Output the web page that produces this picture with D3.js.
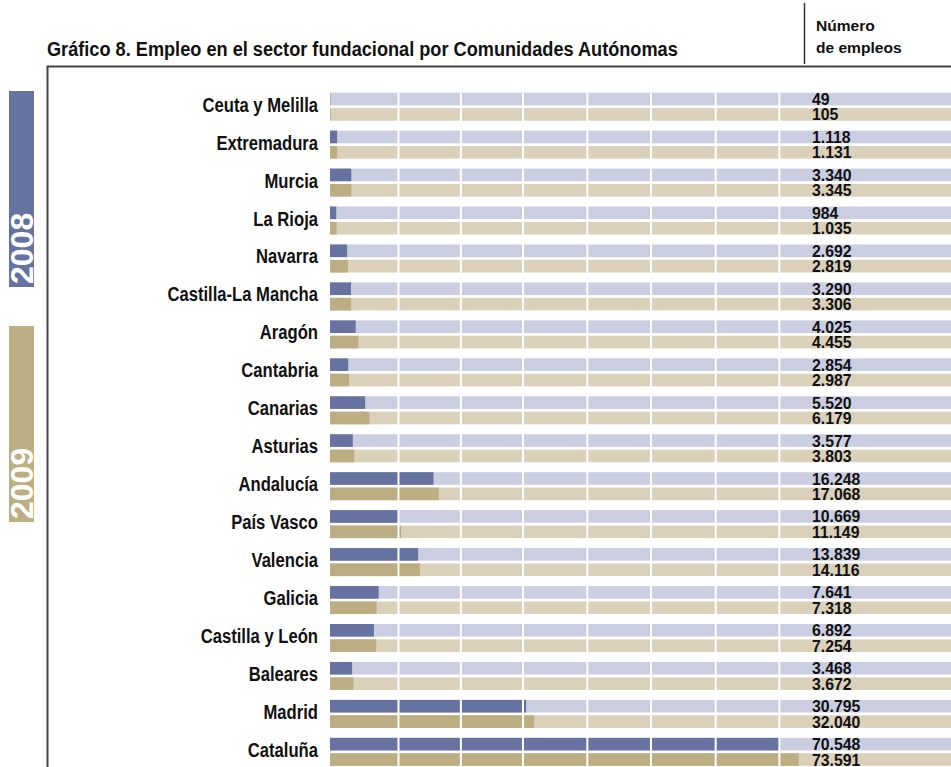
<!DOCTYPE html>
<html><head><meta charset="utf-8">
<script src="https://cdn.jsdelivr.net/npm/d3@7"></script>
<style>body{margin:0;background:#fff} svg{display:block}</style>
</head><body><svg id="c" width="951" height="767"></svg>
<script>
const categories = ["Ceuta y Melilla","Extremadura","Murcia","La Rioja","Navarra","Castilla-La Mancha","Aragón","Cantabria","Canarias","Asturias","Andalucía","País Vasco","Valencia","Galicia","Castilla y León","Baleares","Madrid","Cataluña"];
const years = ["2008","2009"];
const values2008 = [49,1118,3340,984,2692,3290,4025,2854,5520,3577,16248,10669,13839,7641,6892,3468,30795,70548];
const values2009 = [105,1131,3345,1035,2819,3306,4455,2987,6179,3803,17068,11149,14116,7318,7254,3672,32040,73591];
const gridValues = [10750,20550,30300,40400,50400,60550,70550];
const titleText = "Gráfico 8. Empleo en el sector fundacional por Comunidades Autónomas";
const headerLines = ["Número","de empleos"];

const svg = d3.select("#c");
const font = "'Liberation Sans',Arial,Roboto,sans-serif";
const x = d3.scaleLinear().domain([0,97500]).range([330,951]);
const y = d3.scaleBand().domain(categories).range([92.7,765.85]).paddingInner(0.262).paddingOuter(0);
const ySub = d3.scaleBand().domain(years).range([0,y.bandwidth()]).paddingInner(0.18);
const dark = {"2008":"#6673a0","2009":"#bdad83"};
const light = {"2008":"#cbcde1","2009":"#dbd0b9"};
const locale = d3.formatLocale({decimal:",",thousands:".",grouping:[3],currency:["","€"]});
const fmt = locale.format(",d");
const rows = categories.map((c,i)=>({cat:c, vals:[{year:"2008",v:values2008[i]},{year:"2009",v:values2009[i]}]}));

// horizontal compression factor so that a sample string reaches a target width
function squeeze(sample, size, target){
  const t = svg.append("text").attr("font-family",font).attr("font-weight","bold").attr("font-size",size).text(sample);
  const w = t.node().getComputedTextLength();
  t.remove();
  return w > 0 ? target / w : 1;
}
const sTitle = squeeze(titleText, 21, 631);
const sLabel = squeeze("Extremadura", 19.5, 101.7);
const sVal = squeeze("1.118", 16, 38.7);
const sHdr = squeeze("de empleos", 15.5, 85.7);

// title & header
svg.append("text").attr("transform",`translate(47,56) scale(${sTitle},1)`).attr("font-family",font).attr("font-weight","bold")
  .attr("font-size",21).attr("fill","#111").text(titleText);
svg.append("line").attr("x1",804.5).attr("x2",804.5).attr("y1",3).attr("y2",64).attr("stroke","#333").attr("stroke-width",1.5);
svg.selectAll("text.hdr").data(headerLines).join("text").attr("class","hdr")
  .attr("transform",(d,i)=>`translate(816,${30.7+i*22.3}) scale(${sHdr},1)`).attr("font-family",font).attr("font-weight","bold")
  .attr("font-size",15.5).attr("fill","#111").text(d=>d);

// frame
svg.append("path").attr("d","M47.5,767V66.5H951").attr("fill","none").attr("stroke","#444").attr("stroke-width",2);

// legend bars on left
const legend = [{year:"2008",y0:91,h:196},{year:"2009",y0:326,h:196}];
const lg = svg.selectAll("g.lg").data(legend).join("g").attr("class","lg");
lg.append("rect").attr("x",9).attr("y",d=>d.y0).attr("width",25).attr("height",d=>d.h).attr("fill",d=>dark[d.year]);
lg.append("text").attr("transform",d=>`translate(33,${d.y0+d.h-3}) rotate(-90)`)
  .attr("font-family",font).attr("font-weight","bold").attr("font-size",32).attr("fill","#fff").text(d=>d.year);

// bars
const g = svg.selectAll("g.row").data(rows).join("g").attr("class","row").attr("transform",d=>`translate(0,${y(d.cat)})`);
g.selectAll("rect.bg").data(d=>d.vals).join("rect").attr("class","bg")
  .attr("x",x(0)).attr("y",d=>ySub(d.year)).attr("width",x.range()[1]-x(0)).attr("height",ySub.bandwidth()).attr("fill",d=>light[d.year]);
g.selectAll("rect.fg").data(d=>d.vals).join("rect").attr("class","fg")
  .attr("x",x(0)).attr("y",d=>ySub(d.year)).attr("width",d=>x(d.v)-x(0)).attr("height",ySub.bandwidth()).attr("fill",d=>dark[d.year]);

// gridlines
svg.selectAll("line.grid").data(gridValues).join("line").attr("class","grid")
  .attr("x1",d=>x(d)).attr("x2",d=>x(d)).attr("y1",y.range()[0]).attr("y2",767).attr("stroke","#fff").attr("stroke-width",2);

// value labels
g.selectAll("text.val").data(d=>d.vals).join("text").attr("class","val")
  .attr("transform",d=>`translate(812,${ySub(d.year)+ySub.bandwidth()-0.3}) scale(${sVal},1)`)
  .attr("font-family",font).attr("font-weight","bold").attr("font-size",16).attr("fill","#111").text(d=>fmt(d.v));

// category labels
g.append("text").attr("transform",`translate(318,19) scale(${sLabel},1)`).attr("text-anchor","end")
  .attr("font-family",font).attr("font-weight","bold").attr("font-size",19.5)
  .attr("fill","#111").text(d=>d.cat);
</script></body></html>
